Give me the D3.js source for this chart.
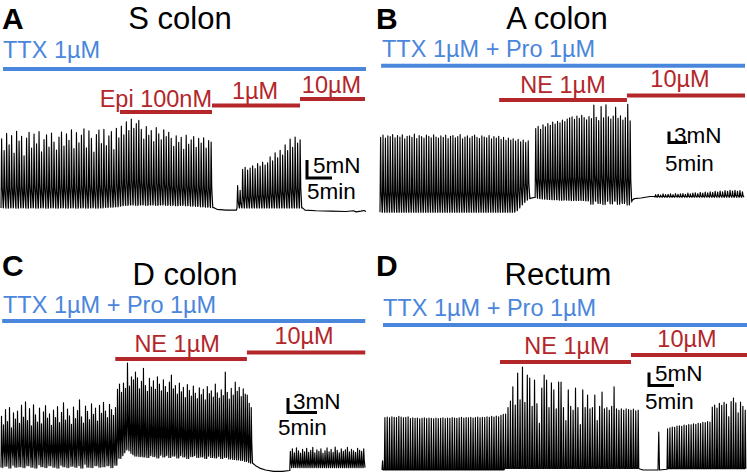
<!DOCTYPE html>
<html>
<head>
<meta charset="utf-8">
<script src="https://cdn.jsdelivr.net/npm/d3@7"></script>
<style>
  body { margin: 0; background: #fff; }
  svg { display: block; font-family: "Liberation Sans", Arial, Helvetica, sans-serif; }
</style>
</head>
<body>
<svg id="fig" width="747" height="472"></svg>
<script>

var panelLetters = ['A', 'B', 'C', 'D'];
var panelTitles = ['S colon', 'A colon', 'D colon', 'Rectum'];
var baseDrugs = ['TTX 1µM', 'TTX 1µM + Pro 1µM', 'TTX 1µM + Pro 1µM', 'TTX 1µM + Pro 1µM'];
// time (min) covered by the base drug bar
var baseDrugTimes = [[0.4, 73], [0.3, 101.4], [0.2, 62.8], [0.2, 73]];
var addedDrugs = [
	[{label: 'Epi 100nM', t0: 23.8, t1: 42.2}, {label: '1µM', t0: 42.2, t1: 59.8}, {label: '10µM', t0: 59.8, t1: 72.8}],
	[{label: 'NE 1µM', t0: 33.1, t1: 68.6}, {label: '10µM', t0: 68.6, t1: 101.4}],
	[{label: 'NE 1µM', t0: 19.7, t1: 42.4}, {label: '10µM', t0: 42.4, t1: 62.8}],
	[{label: 'NE 1µM', t0: 23.6, t1: 49.8}, {label: '10µM', t0: 49.8, t1: 73}]
];
var scaleBarMN = [5, 3, 3, 5];
var scaleBarMin = 5;

// ---- traces: contraction peaks / troughs in mN, flat stretches as [min, mN] ----

// S colon
var sPeaks1 = [19.5,16.2,21.0,17.8,20.4,15.5,21.6,18.9,20.2,14.8,19.7,21.3,
	16.9,20.8,18.1,21.5,15.9,19.3,20.6,17.2,21.1,18.6,16.4,20.0,
	21.4,17.5,20.9,19.1,22.0,16.8,21.2,18.4,20.5,22.3,17.0,21.7,
	19.6,15.8,20.7,21.9,18.2,22.1,17.6,20.3,21.5,16.5,22.4,19.8,
	23.0,20.6,24.2,21.8,25.0,22.4,23.7,24.6,
	22.1,19.4,22.9,20.5,21.8,18.7,22.6,20.9,19.2,22.0,20.1,21.3,
	19.6,17.4,20.3,18.5,19.9,16.6,20.5,18.0,19.2,20.1,17.1,19.6,18.3,19.8,16.9,19.0,18.6];
var sTroughs1 = [0.3,0.5,0.2,0.4,0.3,0.6,0.2,0.4,0.3,0.5,0.2,0.4,
	0.3,0.5,0.2,0.4,0.3,0.6,0.2,0.4,0.3,0.5,0.2,0.4,
	0.3,0.5,0.2,0.4,0.3,0.6,0.2,0.4,0.3,0.5,0.2,0.4,
	0.3,0.5,0.2,0.4,0.3,0.6,0.4,0.6,0.5,0.7,0.6,0.8,
	0.9,1.1,1.0,1.2,1.1,1.3,1.0,1.2,
	1.1,1.3,1.0,1.2,1.1,1.3,1.0,1.2,1.1,1.3,1.0,1.2,
	1.0,1.2,0.9,1.1,1.0,1.2,0.9,1.1,0.8,1.0,0.7,0.9,0.6,0.7,0.5,0.6,0.4];
var sRest1 = [[42.5, 0.4], [43.2, -0.1], [45, -0.3], [47.1, -0.3]];
var sPeaks2 = [6.5,5.2,11.0,11.6,10.8,11.4,12.0,11.2,12.6,11.9,13.0,12.2,12.8,
	14.5,13.4,15.6,14.2,16.3,15.0,17.8,16.2,19.4,17.1,20.0,18.3,19.2];
var sRest2 = [[60.3, 0.3], [60.8, -0.3], [63, -0.5], [66, -0.6], [69, -0.7], [70.5, -0.5],
	[71, -0.8], [72, -0.6], [72.6, -0.4], [73, -0.7]];

// A colon
var aPeaks1 = [20.6,21.2,20.4,21.0,20.8,21.4,20.5,21.1,20.7,21.3,20.2,20.9,
	21.0,20.6,21.5,20.3,21.1,20.8,20.4,21.2,20.9,20.5,21.3,20.7,
	20.4,21.0,20.6,21.2,20.3,20.9,21.1,20.5,20.8,21.4,20.2,20.7,
	21.0,20.4,20.9,21.2,20.6,20.3,21.0,20.7,20.5,21.1,20.2,20.8,
	20.4,20.9,20.1,20.6,19.8,20.4,19.9,20.2];
var aPeaks2 = [19.6,20.1,19.4,19.9,19.2,19.7];
var aTroughs2 = [0.6,1.4,2.2,2.9,3.5,3.9];
var aRest1 = [[41.7, 4.0], [43.1, 4.3]];
var aPeaks3 = [23.0,23.6,22.8,24.0,23.5,24.4,23.9,24.8,24.2,25.0,24.6,25.3,24.9,25.6,
	25.9,26.2,25.5,26.4,25.8,26.6,26.0,25.4,26.3,25.7,29.4,26.1,25.2,29.0,25.9,29.5,
	26.2,25.6,26.4,28.8,25.8,26.5,25.3,26.0,29.6,25.1];
var aTroughs3 = [4.2,4.0,3.9,3.8,3.8,3.7,3.7,3.6,3.6,3.6,3.5,3.5,3.6,3.5,3.5,3.4,3.5,3.4,3.5,3.4,3.4,3.3,3.4,
	2.4,3.3,3.2,2.6,3.3,2.3,3.2,3.3,2.5,3.2,3.3,2.4,3.2,2.6,3.3,2.2,3.0];
var aRest2 = [[70.0, 3.4], [70.6, 3.9], [72.5, 4.1], [75.0, 4.5], [76.4, 4.5]];
var aPeaks4 = [5.0,5.1,4.9,5.2,5.0,5.1,5.2,5.0,5.3,5.1,5.2,5.3,5.1,5.4,5.2,5.4,5.5,5.3,
	5.6,5.4,5.7,5.5,5.8,5.6,5.9,5.7,6.0,5.8,6.1,5.9,6.2,6.0,6.2,5.9,6.1,5.8];

// D colon
var dPeaks1 = [11.2,9.4,12.6,10.1,13.0,8.8,11.9,10.6,12.3,9.7,13.5,11.0,
	14.2,10.3,12.8,9.2,13.6,11.5,10.0,12.9,9.6,12.1,13.4,10.8,
	11.7,9.3,12.5,10.9,13.2,9.9,12.0,14.0,10.4,12.7,11.3,9.5,
	13.1,10.7,12.4,14.6,11.1,9.8,13.3,12.2,10.5,13.8,11.6,12.9,
	10.2,13.5,11.8,14.1,12.3,10.9,13.7,12.6,11.4,13.0];
var dTroughs1 = [0.5,2.1,0.8,1.6,0.4,2.4,1.0,0.6,1.9,0.7,2.2,0.5,
	1.4,0.9,2.0,0.6,1.7,0.4,2.3,1.1,0.7,1.8,0.5,1.5,
	0.9,2.1,0.6,1.3,0.4,2.0,1.0,0.7,1.8,0.5,2.2,0.8,
	1.5,0.6,1.9,0.9,0.4,2.1,1.2,0.6,1.7,0.5,2.0,0.9,
	1.3,0.6,1.8,0.7,2.2,0.9,1.4,0.5,1.6,1.0];
var dPeaks2 = [16.8,17.9,16.2,18.1,17.0,22.3,17.5,19.4,18.8,20.4,19.2,16.9,18.5,21.2,
	17.6,16.4,19.1,17.3,18.6,16.8,19.4,17.9,16.5,18.8,17.4,16.2,18.3,19.8,
	16.9,17.6,15.8,18.1,16.3,17.2,15.1,17.8,16.6,15.4,17.5,16.0,14.9,17.1,
	15.7,16.8,14.6,17.4,15.9,16.5,15.2,17.9,16.1,15.0,16.7,15.5,20.4,16.2,
	14.8,17.0,15.6,18.3,16.4,17.2,15.3,16.9,15.8,15.6,13.9,13.0];
var dTroughs2 = [2.6,2.4,3.0,3.6,4.2,4.6,4.0,3.5,3.2,2.9,3.4,2.8,3.1,2.7,
	3.3,2.6,3.0,3.5,2.8,3.2,2.5,3.1,3.6,2.7,3.0,3.4,2.6,3.2,
	2.9,3.3,2.5,3.0,3.6,2.7,3.1,2.4,3.3,2.8,3.0,3.5,2.6,3.1,
	2.7,3.2,2.4,2.9,3.4,2.6,3.0,2.5,3.2,2.8,2.4,3.0,2.6,2.9,
	2.3,2.7,2.2,2.6,2.1,2.4,2.0,2.3,1.8,2.0,1.6,1.4];
var dRest1 = [[43.4, 1.4], [43.9, 0.9], [44.6, 0.4], [45.6, 0.0], [47.0, -0.3], [48.5, -0.3], [49.8, -0.1]];
var dPeaks3 = [3.9,4.4,3.6,4.6,4.0,3.5,4.3,3.8,4.5,3.7,4.1,4.7,3.6,4.2,3.9,4.4,3.5,4.0,4.6,3.8,
	4.3,3.7,4.8,4.1,3.6,4.4,3.9,4.2,4.7,3.8,4.3,4.0,3.7,4.5,4.1,3.9,4.4];

// Rectum
var rPeaks1 = [3.5,20.2,20.4,20.1,20.5,20.3,20.2,20.6,20.4,20.1,20.3,20.5,
	19.8,20.1,19.9,20.0,19.7,19.9,20.1,19.8,20.0,19.9,19.7,20.0,
	19.8,19.9,20.1,19.8,20.0,19.9,20.2,20.0,19.9,20.1,20.3,20.0,
	20.2,20.1,20.3,20.0,20.2,20.4,20.1,20.3,20.2,20.5,20.3,20.6,
	20.4,20.7,20.5,21.0,21.4];
var rPeaks2 = [21.5,24.0,26.5,32.0,25.0,37.3,27.0,39.6,26.0,36.5,35.4,24.5,34.6,25.5,
	18.0,31.5,36.5,34.6,24.0,33.5,30.8,23.5,33.8,33.8,24.0,19.0,30.8,24.5,
	23.0,31.5,24.0,17.5,30.8,24.0,28.8,23.5,24.0,28.8,19.0,24.5,30.0,23.5,
	24.0,23.0,24.5,32.0,23.5,23.0,23.5,23.0,23.5,23.2,23.0,23.4,22.8,23.0];
var rRest1 = [[51.6, 0.4], [52.2, 0.0], [55.2, 0.0], [55.35, 14.6], [55.5, 0.0], [57.0, 0.3]];
var rPeaks3 = [15.8,16.2,16.5,16.4,16.9,17.0,16.8,17.3,17.1,17.5,17.4,17.8,17.6,18.0,17.9,18.3,18.2,18.6,18.4,
	24.2,25.0,23.8,25.6,24.9,26.0,25.4,20.5,26.3,27.7,25.8,22.0,26.1,24.5,23.0];

var traces = [
	[
		{t0: 0, t1: 42.4, peaks: sPeaks1, troughs: sTroughs1},
		{points: sRest1},
		{t0: 47.2, t1: 60.2, peaks: sPeaks2, troughs: 0.3},
		{points: sRest2}
	],
	[
		{t0: 0, t1: 37.5, peaks: aPeaks1, troughs: 0.2},
		{t0: 37.5, t1: 41.7, peaks: aPeaks2, troughs: aTroughs2},
		{points: aRest1},
		{t0: 43.1, t1: 70.0, peaks: aPeaks3, troughs: aTroughs3},
		{points: aRest2},
		{t0: 76.4, t1: 101.2, peaks: aPeaks4, troughs: 4.3}
	],
	[
		{t0: 0, t1: 20, peaks: dPeaks1, troughs: dTroughs1},
		{t0: 20, t1: 43.4, peaks: dPeaks2, troughs: dTroughs2},
		{points: dRest1},
		{t0: 49.8, t1: 62.8, peaks: dPeaks3, troughs: 0.5}
	],
	[
		{t0: 0, t1: 24.6, peaks: rPeaks1, troughs: 0},
		{t0: 24.6, t1: 51.6, peaks: rPeaks2, troughs: 0.6},
		{points: rRest1},
		{t0: 57, t1: 73, peaks: rPeaks3, troughs: 0.5}
	]
];

// ---- layout (pixels) ----
var BLUE = '#4a86dc';
var RED = '#b3262a';

// relax: how far up the slow relaxation shoulder sits (fraction of the twitch)
var layout = [
	{xr: [1, 366], tMax: 73, yZero: 209, pxMN: 3.6, relax: 0.3, letter: [2, 29], title: [180, 29],
	 baseY: 69, baseLabel: [3, 58], bars: [112, 105.5, 99], dy: [-5, -6.5, -6.3], dx: [0, -1, -1],
	 sb: [307, 178], sbMN: [313, 172.5], sbMin: [307, 199]},
	{xr: [380, 745], tMax: 101.4, yZero: 213, pxMN: 3.67, relax: 0.28, letter: [376, 29], title: [557, 29],
	 baseY: 65.7, baseLabel: [382, 57], bars: [100, 95.5], dy: [-7, -8.5], dx: [0, -6],
	 sb: [669, 142.5], sbMN: [674, 143], sbMin: [665, 170.5]},
	{xr: [1, 366.4], tMax: 63, yZero: 470, pxMN: 4.8, relax: 0.4, letter: [2, 276], title: [185, 285],
	 baseY: 321, baseLabel: [3, 313], bars: [359, 352.5], dy: [-7, -8.5], dx: [-4, -2],
	 sb: [288, 412.5], sbMN: [293, 409], sbMin: [278, 435]},
	{xr: [382, 747], tMax: 73, yZero: 470, pxMN: 2.6, relax: 0, letter: [376, 276], title: [558, 285],
	 baseY: 325, baseLabel: [383, 315.5], bars: [362, 355], dy: [-8, -8], dx: [1.5, -2],
	 sb: [649, 385.5], sbMN: [655, 381], sbMin: [645, 409]}
];

var svg = d3.select('#fig');
svg.append('rect').attr('width', 747).attr('height', 472).attr('fill', '#fff');

function tracePoints(trace, relax) {
	var pts = [];
	trace.forEach(function (seg) {
		if (seg.points) {
			seg.points.forEach(function (p) { pts.push(p); });
			return;
		}
		var step = (seg.t1 - seg.t0) / seg.peaks.length;
		seg.peaks.forEach(function (pk, i) {
			var tr = Array.isArray(seg.troughs) ? seg.troughs[i] : seg.troughs;
			var t = seg.t0 + i * step;
			pts.push([t, tr], [t + step * 0.25, pk]);
			if (relax > 0) {
				pts.push([t + step * 0.5, tr + relax * (pk - tr)], [t + step * 0.9, tr]);
			} else {
				pts.push([t + step * 0.5, tr]);
			}
		});
	});
	return pts;
}

panelLetters.forEach(function (letter, k) {
	var L = layout[k];
	var x = d3.scaleLinear().domain([0, L.tMax]).range(L.xr);
	var y = d3.scaleLinear().domain([0, 10]).range([L.yZero, L.yZero - 10 * L.pxMN]);
	var g = svg.append('g');

	g.append('text').attr('x', L.letter[0]).attr('y', L.letter[1])
		.attr('font-size', 30).attr('font-weight', 'bold').text(letter);
	g.append('text').attr('x', L.title[0]).attr('y', L.title[1])
		.attr('font-size', 31).attr('text-anchor', 'middle').text(panelTitles[k]);

	// base drug
	g.append('text').attr('x', L.baseLabel[0]).attr('y', L.baseLabel[1])
		.attr('font-size', 23.5).attr('fill', BLUE).text(baseDrugs[k]);
	g.append('line')
		.attr('x1', x(baseDrugTimes[k][0])).attr('x2', x(baseDrugTimes[k][1]))
		.attr('y1', L.baseY).attr('y2', L.baseY)
		.attr('stroke', BLUE).attr('stroke-width', 4);

	// added drugs
	addedDrugs[k].forEach(function (d, i) {
		var yb = L.bars[i];
		g.append('line')
			.attr('x1', x(d.t0)).attr('x2', x(d.t1)).attr('y1', yb).attr('y2', yb)
			.attr('stroke', RED).attr('stroke-width', 4);
		var endAnchor = (k === 0 && i === 0);
		g.append('text')
			.attr('x', (endAnchor ? x(d.t1) : (x(d.t0) + x(d.t1)) / 2) + L.dx[i])
			.attr('y', yb + L.dy[i])
			.attr('text-anchor', endAnchor ? 'end' : 'middle')
			.attr('font-size', 23.5).attr('fill', RED).text(d.label);
	});

	// trace
	var line = d3.line().x(function (p) { return x(p[0]); }).y(function (p) { return y(p[1]); });
	g.append('path').datum(tracePoints(traces[k], L.relax))
		.attr('d', line).attr('fill', 'none')
		.attr('stroke', '#000').attr('stroke-width', 1.15).attr('stroke-linejoin', 'round');

	// scale bar
	var vLen = y(0) - y(scaleBarMN[k]);
	var hLen = x(scaleBarMin) - x(0);
	g.append('path')
		.attr('d', 'M' + L.sb[0] + ',' + (L.sb[1] - vLen) + 'V' + L.sb[1] + 'H' + (L.sb[0] + hLen))
		.attr('fill', 'none').attr('stroke', '#000').attr('stroke-width', 3);
	g.append('text').attr('x', L.sbMN[0]).attr('y', L.sbMN[1])
		.attr('font-size', 22.5).text(scaleBarMN[k] + 'mN');
	g.append('text').attr('x', L.sbMin[0]).attr('y', L.sbMin[1])
		.attr('font-size', 22.5).text(scaleBarMin + 'min');
});

</script>
</body>
</html>
